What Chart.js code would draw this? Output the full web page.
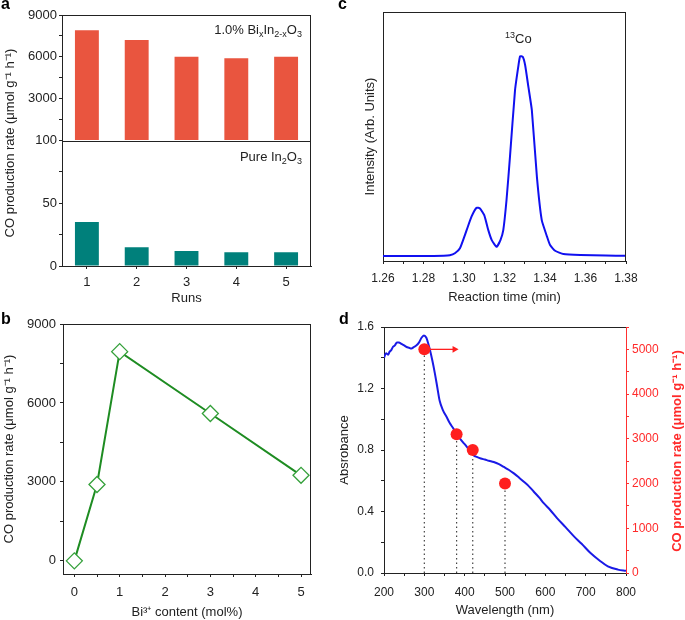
<!DOCTYPE html>
<html>
<head>
<meta charset="utf-8">
<script src="https://cdn.jsdelivr.net/npm/chart.js@4.4.1/dist/chart.umd.min.js"></script>
<style>
  body { margin: 0; background: #fff; }
  #fig { position: relative; width: 685px; height: 620px; background: #fff; overflow: hidden;
         font-family: 'Liberation Sans', Arial, sans-serif; color: #222; }
  canvas { position: absolute; }
  .lab { position: absolute; font-weight: bold; font-size: 16px; line-height: 16px; color: #000; }
  .txt { position: absolute; font-size: 13px; line-height: 16px; white-space: nowrap; }
  .txt sub { font-size: 9px; vertical-align: -3px; line-height: 0; }
  .txt sup { font-size: 9px; vertical-align: 5px; line-height: 0; }
  .rot { position: absolute; height: 16px; line-height: 16px; font-size: 13px; text-align: center;
         white-space: nowrap; transform: rotate(-90deg); transform-origin: center; }
</style>
</head>
<body>
<div id="fig">
  <canvas id="chartA" width="340" height="310" style="left:0;top:0"></canvas>
  <canvas id="chartB" width="340" height="320" style="left:0;top:300px"></canvas>
  <canvas id="chartC" width="345" height="310" style="left:340px;top:0"></canvas>
  <canvas id="chartD" width="345" height="320" style="left:340px;top:300px"></canvas>

  <div class="lab" style="left:1px;top:-4px">a</div>
  <div class="lab" style="left:1px;top:311px">b</div>
  <div class="lab" style="left:338px;top:-4px">c</div>
  <div class="lab" style="left:339px;top:311px">d</div>

  <div class="rot" style="left:-120px;top:135px;width:260px">CO production rate (μmol g⁻¹ h⁻¹)</div>
  <div class="txt" style="right:383px;top:22px">1.0% Bi<sub>x</sub>In<sub>2-x</sub>O<sub>3</sub></div>
  <div class="txt" style="right:383px;top:149px">Pure In<sub>2</sub>O<sub>3</sub></div>
  <div class="txt" style="left:505px;top:31px"><sup>13</sup>Co</div>
  <div class="rot" style="left:557px;top:443px;width:240px;color:#ff2a2a;font-weight:bold">CO production rate (μmol g⁻¹ h⁻¹)</div>
</div>
<script>
// panel a: stability runs
const runs = ['1', '2', '3', '4', '5'];
const biRate = [7900, 7200, 6000, 5900, 6000];
const pureRate = [35, 15, 12, 11, 11];

// panel b: rate vs Bi content
const biContent = [0, 0.5, 1, 3, 5];
const contentRate = [0, 2900, 7950, 5600, 3250];

// panel c: 13CO chromatogram
const reactTime = [1.260, 1.270, 1.280, 1.290, 1.293, 1.2955, 1.298, 1.3013, 1.3037, 1.3062, 1.3079, 1.310,
  1.312, 1.3137, 1.3161, 1.318, 1.3194, 1.321, 1.3227, 1.3252, 1.3269, 1.3277, 1.329, 1.3302, 1.3318,
  1.3335, 1.336, 1.3384, 1.341, 1.3425, 1.345, 1.3491, 1.3574, 1.370, 1.380];
const intensity = [2.0, 2.0, 2.0, 2.1, 2.3, 3.1, 5.1, 12.4, 17.8, 21.4, 21.1, 18.4,
  12.4, 8.4, 5.7, 8.4, 12.4, 24.5, 41.8, 68.6, 78.6, 82.2, 82.0, 78.6, 69.9,
  60.6, 33.8, 16.4, 9.8, 6.4, 4.1, 2.8, 2.4, 2.2, 2.1];

// panel d: absorbance + wavelength dependent rate
const wavelength = [200, 205, 210, 214, 218, 222, 227, 232, 237, 243, 250, 256, 262, 268, 274, 280, 287, 293,
  299, 305, 310, 314, 320, 326, 332, 338, 346, 355, 363, 372, 380, 388, 396, 405, 412, 418, 424, 430, 440,
  450, 460, 472, 485, 497, 510, 522, 535, 546, 560, 571, 585, 596, 612, 629, 650, 671, 690, 712, 735, 755,
  780, 800];
const absorbance = [1.40, 1.43, 1.42, 1.44, 1.45, 1.47, 1.48, 1.50, 1.50, 1.49, 1.48, 1.47, 1.465, 1.46, 1.47,
  1.48, 1.50, 1.53, 1.545, 1.53, 1.49, 1.45, 1.38, 1.30, 1.21, 1.12, 1.06, 1.016, 0.975, 0.94, 0.905, 0.876,
  0.85, 0.822, 0.795, 0.775, 0.762, 0.755, 0.745, 0.738, 0.73, 0.722, 0.708, 0.69, 0.67, 0.648, 0.62, 0.595,
  0.562, 0.53, 0.49, 0.454, 0.41, 0.357, 0.298, 0.238, 0.19, 0.13, 0.08, 0.043, 0.022, 0.015];
const sampleWave = [300, 380, 420, 500];
const sampleRate = [5000, 3100, 2750, 2000];
const arrowTip = 375;

const axisColor = '#222';
const red = '#ff1f1f';

Chart.defaults.font.family = "'Liberation Sans', Arial, sans-serif";
Chart.defaults.font.size = 13;
Chart.defaults.color = '#222';
Chart.defaults.plugins.legend.display = false;
Chart.defaults.plugins.tooltip.enabled = false;

// box around the plot (top/right), plus the break line of panel a
Chart.register({
  id: 'frame',
  afterDatasetsDraw(chart, args, opts) {
    const ctx = chart.ctx, a = chart.chartArea;
    ctx.save();
    ctx.strokeStyle = axisColor;
    ctx.lineWidth = 1;
    ctx.beginPath();
    if (opts.top) { ctx.moveTo(a.left, Math.round(a.top) + 0.5); ctx.lineTo(a.right, Math.round(a.top) + 0.5); }
    if (opts.right) { ctx.moveTo(Math.round(a.right) - 0.5, a.top); ctx.lineTo(Math.round(a.right) - 0.5, a.bottom); }
    if (opts.split) {
      const y = Math.round(chart.scales[opts.split].top) + 0.5;
      ctx.moveTo(a.left, y); ctx.lineTo(a.right, y);
    }
    ctx.stroke();
    ctx.restore();
  }
});

function tickGrid(color) {
  return { display: true, drawOnChartArea: false, tickLength: 3, color: color || axisColor };
}

// fixed tick list from lo to hi
function stepTicks(lo, hi, step) {
  return s => {
    const t = [];
    for (let v = lo; v <= hi + step / 1000; v += step) t.push({ value: Math.round(v * 1000) / 1000 });
    s.ticks = t;
  };
}

// a
new Chart(document.getElementById('chartA'), {
  type: 'bar',
  data: {
    labels: runs,
    datasets: [
      { data: biRate, yAxisID: 'yTop', backgroundColor: '#e9553f', grouped: false, barPercentage: 0.48, categoryPercentage: 1 },
      { data: pureRate, yAxisID: 'yBot', backgroundColor: '#00807b', grouped: false, barPercentage: 0.48, categoryPercentage: 1 }
    ]
  },
  options: {
    responsive: false,
    animation: false,
    layout: { padding: { top: 15, right: 29, left: 0, bottom: 0 } },
    plugins: { frame: { top: true, right: true, split: 'yBot' } },
    scales: {
      x: {
        grid: Object.assign(tickGrid(), { offset: false }),
        border: { color: axisColor },
        ticks: { padding: 6 },
        title: { display: true, text: 'Runs', padding: { top: 0, bottom: 4 } },
        afterFit: s => { s.height = 44; }
      },
      yBot: {
        type: 'linear', axis: 'y', position: 'left', stack: 'a', stackWeight: 1,
        min: 0, max: 100,
        grid: tickGrid(), border: { color: axisColor },
        ticks: { autoSkip: false, padding: 2, callback: v => v % 50 === 0 ? v : '' },
        afterBuildTicks: stepTicks(0, 100, 25),
        afterFit: s => { s.width = 62; }
      },
      yTop: {
        type: 'linear', axis: 'y', position: 'left', stack: 'a', stackWeight: 1,
        min: 0, max: 9000,
        grid: tickGrid(), border: { color: axisColor },
        ticks: { autoSkip: false, padding: 2, callback: v => (v > 0 && v % 3000 === 0) ? v : '' },
        afterBuildTicks: stepTicks(0, 9000, 1500),
        afterFit: s => { s.width = 62; }
      }
    }
  }
});

// b
new Chart(document.getElementById('chartB'), {
  type: 'line',
  data: {
    datasets: [{
      data: biContent.map((x, i) => ({ x: x, y: contentRate[i] })),
      borderColor: '#1e8c22', borderWidth: 2, tension: 0,
      pointStyle: 'rectRot', pointRadius: 8, pointBorderColor: '#34a03a',
      pointBackgroundColor: '#fff', pointBorderWidth: 1.3
    }]
  },
  options: {
    responsive: false,
    animation: false,
    layout: { padding: { top: 24, right: 29, left: 0, bottom: 0 } },
    plugins: { frame: { top: true, right: true } },
    scales: {
      x: {
        type: 'linear', min: -0.25, max: 5.22,
        grid: tickGrid(), border: { color: axisColor },
        ticks: { autoSkip: false, padding: 8, maxRotation: 0,
          callback: v => Number.isInteger(v) ? v : '' },
        afterBuildTicks: stepTicks(0, 5, 0.5),
        title: { display: true, text: 'Bi³⁺ content (mol%)', padding: { top: 0, bottom: 0 } },
        afterFit: s => { s.height = 46; }
      },
      y: {
        min: -500, max: 9000,
        grid: tickGrid(), border: { color: axisColor },
        ticks: { autoSkip: false, padding: 4, callback: v => v % 3000 === 0 ? v : '' },
        afterBuildTicks: stepTicks(0, 9000, 1500),
        title: { display: true, text: 'CO production rate (μmol g⁻¹ h⁻¹)', padding: { top: 2, bottom: 0 } },
        afterFit: s => { s.width = 63; }
      }
    }
  }
});

// c
new Chart(document.getElementById('chartC'), {
  type: 'line',
  data: {
    datasets: [{
      data: reactTime.map((t, i) => ({ x: t, y: intensity[i] })),
      borderColor: '#1010f0', borderWidth: 2, pointRadius: 0, tension: 0.15
    }]
  },
  options: {
    responsive: false,
    animation: false,
    layout: { padding: { top: 12, right: 59, left: 0, bottom: 0 } },
    plugins: { frame: { top: true, right: true } },
    scales: {
      x: {
        type: 'linear', min: 1.26, max: 1.38,
        grid: tickGrid(), border: { color: axisColor },
        ticks: { autoSkip: false, padding: 7, maxRotation: 0, font: { size: 12 },
          callback: v => Math.round(v * 100) % 2 === 0 ? v.toFixed(2) : '' },
        afterBuildTicks: stepTicks(1.26, 1.38, 0.01),
        title: { display: true, text: 'Reaction time (min)', padding: { top: 0, bottom: 5 } },
        afterFit: s => { s.height = 49; }
      },
      y: {
        min: 0, max: 100,
        grid: { display: false }, border: { display: true, color: axisColor },
        ticks: { display: false },
        title: { display: true, text: 'Intensity (Arb. Units)', padding: { top: 23, bottom: 0 } },
        afterFit: s => { s.width = 43; }
      }
    }
  }
});

// d
const dotted = sampleWave.map((w, i) => ({
  data: [{ x: w, y: 0 }, { x: w, y: sampleRate[i] }],
  yAxisID: 'yR', borderColor: '#444', borderWidth: 1.2, borderDash: [1.5, 3], pointRadius: 0
}));
new Chart(document.getElementById('chartD'), {
  type: 'line',
  data: {
    datasets: [
      {
        data: sampleWave.map((w, i) => ({ x: w, y: sampleRate[i] })),
        yAxisID: 'yR', showLine: false, pointRadius: 6,
        pointBackgroundColor: red, pointBorderColor: red, pointBorderWidth: 0
      },
      {
        data: [{ x: sampleWave[0], y: sampleRate[0] }, { x: arrowTip, y: sampleRate[0] }],
        yAxisID: 'yR', borderColor: red, borderWidth: 1.3,
        pointRadius: [0, 4], pointStyle: 'triangle', rotation: 90,
        pointBackgroundColor: red, pointBorderColor: red, pointBorderWidth: 0
      },
      {
        data: wavelength.map((w, i) => ({ x: w, y: absorbance[i] })),
        yAxisID: 'y', borderColor: '#1a1ae6', borderWidth: 2, pointRadius: 0,
        cubicInterpolationMode: 'monotone'
      }
    ].concat(dotted)
  },
  options: {
    responsive: false,
    animation: false,
    layout: { padding: { top: 27, right: 0, left: 0, bottom: 0 } },
    plugins: { frame: { top: true } },
    scales: {
      x: {
        type: 'linear', min: 200, max: 800,
        grid: tickGrid(), border: { color: axisColor },
        ticks: { autoSkip: false, padding: 9, maxRotation: 0, font: { size: 12 },
          callback: v => v % 100 === 0 ? v : '' },
        afterBuildTicks: stepTicks(200, 800, 50),
        title: { display: true, text: 'Wavelength (nm)', padding: { top: 0, bottom: 2 } },
        afterFit: s => { s.height = 47; }
      },
      y: {
        position: 'left', min: 0, max: 1.6,
        grid: tickGrid(), border: { color: axisColor },
        ticks: { autoSkip: false, padding: 7, font: { size: 12 },
          callback: v => Math.round(v * 10) % 4 === 0 ? v.toFixed(1) : '' },
        afterBuildTicks: stepTicks(0, 1.6, 0.2),
        title: { display: true, text: 'Absrobance', padding: { top: -3, bottom: 0 } },
        afterFit: s => { s.width = 44; }
      },
      yR: {
        type: 'linear', position: 'right', min: 0, max: 5500,
        grid: tickGrid('#ff3030'), border: { color: '#ff3030' },
        ticks: { autoSkip: false, padding: 3, color: '#ff2a2a', font: { size: 12 },
          callback: v => v % 1000 === 0 ? v : '' },
        afterBuildTicks: stepTicks(0, 5500, 500),
        afterFit: s => { s.width = 59; }
      }
    }
  }
});
</script>
</body>
</html>
